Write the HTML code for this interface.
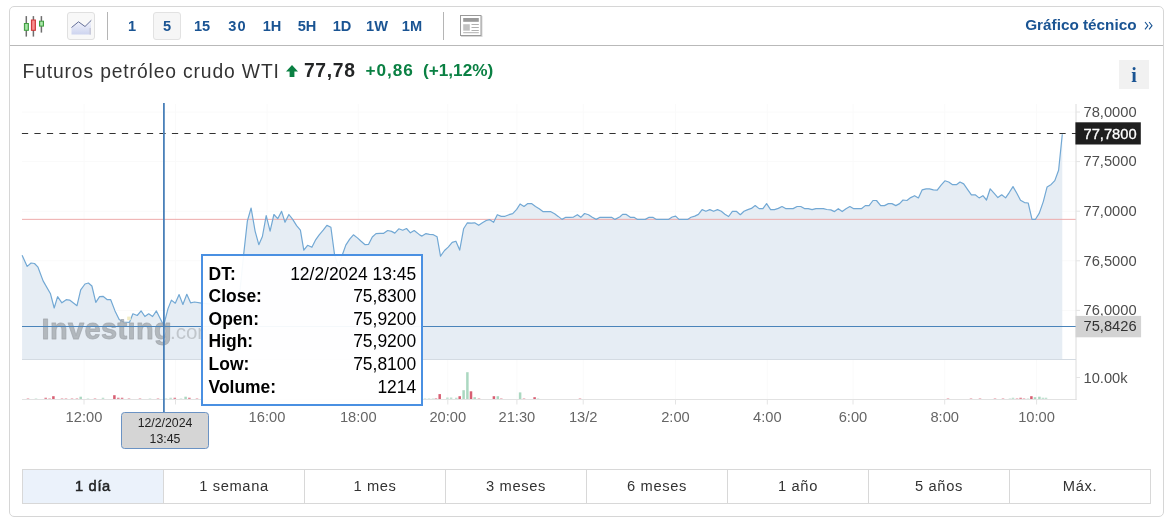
<!DOCTYPE html>
<html><head><meta charset="utf-8"><title>Futuros petróleo crudo WTI</title>
<style>
html,body{margin:0;padding:0;background:#fff;}
body{width:1169px;height:526px;position:relative;overflow:hidden;font-family:"Liberation Sans",sans-serif;}
.card{position:absolute;left:9px;top:6px;width:1153px;height:509px;border:1px solid #d6d6d6;border-radius:5px;background:#fff;}
.hdr{position:absolute;left:10px;top:7px;width:1153px;height:38px;border-bottom:1px solid #b9b9b9;}
.iv{position:absolute;top:12px;width:28px;height:28px;line-height:28px;text-align:center;font-weight:bold;font-size:14.6px;color:#1a5493;box-sizing:border-box;}
.iv.on{background:#f6f6f6;border:1px solid #e2e2e2;border-radius:3px;line-height:26px;}
.btn{position:absolute;left:67px;top:12px;width:28px;height:28px;box-sizing:border-box;background:#f8f8f8;border:1px solid #e0e0e0;border-radius:3px;}
.sep{position:absolute;top:12px;width:1px;height:28px;background:#b5b5b5;}
.gt{position:absolute;left:1025.2px;top:16.4px;letter-spacing:0px;font-weight:bold;font-size:15.3px;color:#1a5493;white-space:nowrap;line-height:17px;}
.title{position:absolute;left:22.5px;top:59.6px;font-size:19.3px;line-height:24px;color:#333;white-space:nowrap;letter-spacing:0.87px;}
.px{position:absolute;left:304px;top:59px;font-size:19.3px;line-height:24px;color:#232526;font-weight:bold;white-space:nowrap;letter-spacing:0.65px;}
.chg{position:absolute;top:59px;font-size:17.2px;line-height:22px;color:#0a8043;font-weight:bold;white-space:nowrap;}
.info{position:absolute;left:1119px;top:60px;width:30px;height:29px;background:#f1f1f1;text-align:center;font-family:"Liberation Serif",serif;font-weight:bold;font-size:20px;line-height:30px;color:#1a5493;}
svg{position:absolute;left:0;top:0;}
svg text{font-family:"Liberation Sans",sans-serif;}
.tip{position:absolute;left:201px;top:254.2px;width:218px;height:148px;border:2px solid #4a90e2;background:rgba(255,255,255,0.94);font-size:17.45px;color:#000;}
.tip .r{position:absolute;left:5.6px;right:4.8px;height:20px;line-height:20px;}
.tip .r b{position:absolute;left:0;}
.tip .r span{position:absolute;right:0;}
.dlab{position:absolute;left:121px;top:412px;width:86px;height:34.5px;border:1px solid #6b93c4;border-radius:3.5px;background:#d5d5d5;text-align:center;font-size:12.3px;line-height:15.8px;color:#222;padding-top:0px;}
.dlab div{position:relative;top:2.9px}
.tabs{position:absolute;left:22px;top:469px;width:1129px;height:35px;border:1px solid #d8d8d8;box-sizing:border-box;}
.tab{position:absolute;top:0;width:141px;height:33px;line-height:33.2px;text-align:center;font-size:14.7px;letter-spacing:0.62px;color:#333;border-left:1px solid #d8d8d8;box-sizing:border-box;}
.tab:first-child{border-left:none;}
.tab.on{background:#ebf2fb;font-weight:normal;color:#232526;-webkit-text-stroke:0.5px #232526;}
</style></head><body>
<div id="root" style="position:absolute;left:0;top:0;width:1169px;height:526px;will-change:transform;">
<div class="card"></div>
<div class="hdr"></div>
<svg width="60" height="46" viewBox="0 0 60 46">
 <defs><linearGradient id="cg" x1="0" y1="0" x2="1" y2="0"><stop offset="0" stop-color="#7fd27f"/><stop offset="0.5" stop-color="#aee6ae"/><stop offset="1" stop-color="#7fd27f"/></linearGradient>
 <linearGradient id="cr" x1="0" y1="0" x2="1" y2="0"><stop offset="0" stop-color="#ee6a6a"/><stop offset="0.5" stop-color="#f79494"/><stop offset="1" stop-color="#ee6a6a"/></linearGradient></defs>
 <g stroke="#6e6e6e" stroke-width="1.5" fill="none"><line x1="26.3" y1="16.1" x2="26.3" y2="36.6"/><line x1="33.4" y1="16.1" x2="33.4" y2="36.6"/><line x1="41.4" y1="16.1" x2="41.4" y2="32.6"/></g>
 <rect x="24.4" y="23.5" width="4" height="6.8" fill="url(#cg)" stroke="#3f9c3f" stroke-width="1"/>
 <rect x="31.4" y="20" width="4" height="10.3" fill="url(#cr)" stroke="#cc3333" stroke-width="1"/>
 <rect x="39.5" y="21.2" width="4" height="4.9" fill="url(#cg)" stroke="#3f9c3f" stroke-width="1"/>
</svg>
<div class="btn"><svg width="26" height="26" viewBox="0 0 26 26" style="left:0;top:0">
 <defs><linearGradient id="ag" x1="0" y1="0" x2="0" y2="1"><stop offset="0" stop-color="#f4f5fc"/><stop offset="1" stop-color="#cdd4ef"/></linearGradient></defs>
 <path d="M3.5,14.5 L10.5,8.8 L17,13.5 L23,7.5 L23,21.5 L3.5,21.5 Z" fill="url(#ag)"/>
 <rect x="21.4" y="15" width="1.6" height="6.5" fill="#c9cbdc"/>
 <path d="M3.5,14.5 L10.5,8.8 L17,13.5 L23.3,7.3" fill="none" stroke="#5c6792" stroke-width="0.95"/>
</svg></div>
<div class="sep" style="left:107px"></div>
<div class="iv" style="left:118px">1</div><div class="iv on" style="left:153px">5</div><div class="iv" style="left:188px">15</div><div class="iv" style="left:223px;letter-spacing:1.2px;text-indent:1px">30</div><div class="iv" style="left:258px">1H</div><div class="iv" style="left:293px">5H</div><div class="iv" style="left:328px">1D</div><div class="iv" style="left:363px">1W</div><div class="iv" style="left:398px">1M</div>
<div class="sep" style="left:443px"></div>
<svg width="30" height="30" viewBox="0 0 30 30" style="left:455px;top:10px">
 <rect x="6" y="6" width="21.5" height="21" fill="#d8d8d8"/>
 <rect x="5.5" y="5.5" width="20.5" height="20" fill="#fff" stroke="#999" stroke-width="1"/>
 <rect x="8.2" y="8" width="15.6" height="3.8" fill="#9a9a9a"/>
 <rect x="8.2" y="14.2" width="6.6" height="6.5" fill="#c2c2c2"/>
 <g stroke="#b0b0b0" stroke-width="1"><line x1="16.5" y1="14.5" x2="23.8" y2="14.5"/><line x1="16.5" y1="17.5" x2="23.8" y2="17.5"/><line x1="16.5" y1="20.5" x2="23.8" y2="20.5"/><line x1="8.2" y1="22.7" x2="23.8" y2="22.7"/></g>
</svg>
<div class="gt">Gráfico técnico</div><svg width="10" height="10" viewBox="0 0 10 10" style="left:1144px;top:21.2px"><path d="M1,1 L3.9,4.7 L1,8.4 M5.1,1 L8,4.7 L5.1,8.4" fill="none" stroke="#1a5493" stroke-width="1.1"/></svg>
<div class="title">Futuros petróleo crudo WTI</div>
<svg width="14" height="14" viewBox="0 0 14 14" style="left:285px;top:64px"><path d="M7,1 L13,7.6 L9.4,7.6 L9.4,13 L4.6,13 L4.6,7.6 L1,7.6 Z" fill="#0a8043"/></svg>
<div class="px">77,78</div>
<div class="chg" style="left:365.5px;letter-spacing:0.95px">+0,86</div>
<div class="chg" style="left:423px">(+1,12%)</div>
<div class="info">i</div>

<svg width="1169" height="526" viewBox="0 0 1169 526">
 <g stroke="#fafafa" stroke-width="1"><line x1="84" y1="104" x2="84" y2="399"/><line x1="175.5" y1="104" x2="175.5" y2="399"/><line x1="267" y1="104" x2="267" y2="399"/><line x1="358.3" y1="104" x2="358.3" y2="399"/><line x1="447.8" y1="104" x2="447.8" y2="399"/><line x1="516.9" y1="104" x2="516.9" y2="399"/><line x1="583.2" y1="104" x2="583.2" y2="399"/><line x1="675.5" y1="104" x2="675.5" y2="399"/><line x1="767.3" y1="104" x2="767.3" y2="399"/><line x1="853" y1="104" x2="853" y2="399"/><line x1="944.7" y1="104" x2="944.7" y2="399"/><line x1="1036.6" y1="104" x2="1036.6" y2="399"/><line x1="22" y1="112" x2="1076" y2="112"/><line x1="22" y1="161.6" x2="1076" y2="161.6"/><line x1="22" y1="211.2" x2="1076" y2="211.2"/><line x1="22" y1="260.8" x2="1076" y2="260.8"/><line x1="22" y1="310.4" x2="1076" y2="310.4"/></g>
 <path d="M22.1,255.3 L27.2,266.4 L31.1,263.0 L34.5,263.5 L38.0,267.2 L43.1,280.9 L50.5,293.8 L54.2,308.0 L57.6,296.7 L61.9,302.8 L66.2,299.7 L69.6,300.1 L77.0,305.7 L80.7,289.8 L85.0,284.0 L88.4,283.0 L91.9,286.0 L95.8,302.3 L99.6,296.7 L103.0,296.3 L107.3,299.7 L110.7,299.7 L115.0,310.9 L119.2,319.4 L123.5,322.0 L129.5,322.3 L132.9,313.8 L137.2,315.5 L141.1,310.9 L144.9,316.5 L148.7,313.8 L152.6,316.5 L156.4,310.9 L163.7,325.4 L168.0,308.6 L171.4,300.1 L175.3,303.2 L179.1,294.6 L182.9,304.5 L186.8,294.3 L190.6,302.8 L194.5,302.0 L201.4,303.2 L210.0,304.0 L220.0,300.0 L230.0,303.0 L239.0,300.0 L243.6,255.0 L247.4,220.8 L251.1,208.0 L255.1,231.1 L258.8,244.7 L262.4,236.5 L266.2,215.7 L270.1,231.1 L273.9,214.5 L277.7,218.7 L281.6,211.4 L285.0,222.2 L288.9,214.5 L292.7,219.4 L296.6,225.6 L300.4,230.2 L303.8,250.2 L307.6,245.3 L311.9,247.3 L315.8,239.6 L319.2,234.8 L323.2,230.2 L326.9,225.4 L330.9,227.3 L334.6,255.0 L338.4,266.0 L342.3,255.0 L345.8,245.1 L349.7,239.1 L353.4,234.8 L357.4,237.9 L361.1,241.3 L365.1,244.7 L368.5,244.4 L372.3,237.0 L376.0,233.6 L380.0,233.3 L383.7,233.3 L387.7,230.5 L391.6,231.4 L394.8,233.1 L398.8,228.8 L402.7,230.2 L406.5,228.5 L410.4,232.8 L414.2,230.5 L420.0,235.1 L422.0,236.1 L426.0,233.6 L429.4,234.4 L433.3,234.7 L437.1,236.8 L440.5,256.1 L444.5,250.5 L448.2,247.1 L452.2,242.4 L455.9,241.2 L459.7,250.1 L463.6,228.8 L467.4,222.8 L471.3,223.1 L474.7,222.8 L478.7,225.3 L482.4,222.8 L486.2,220.5 L489.8,219.7 L493.6,222.3 L497.3,214.7 L501.3,216.4 L505.0,216.3 L509.0,214.7 L512.7,213.7 L516.7,209.4 L520.1,204.0 L524.0,206.5 L527.8,203.6 L531.5,203.6 L535.5,206.5 L539.2,208.7 L543.2,211.7 L546.9,211.7 L550.9,211.7 L554.6,213.7 L558.2,216.4 L562.0,219.4 L565.8,217.3 L569.7,217.3 L573.5,217.1 L577.4,214.7 L580.8,217.3 L584.6,213.5 L588.5,214.7 L592.3,217.3 L596.2,219.4 L600.0,217.3 L603.9,217.3 L607.7,217.3 L611.6,217.3 L615.0,219.4 L620.0,216.8 L622.6,214.4 L626.3,214.4 L630.3,217.3 L634.0,217.3 L637.5,219.4 L641.4,219.4 L645.3,219.4 L649.1,217.3 L652.8,217.3 L656.4,219.4 L660.5,219.4 L664.5,219.4 L668.4,219.4 L672.2,217.0 L675.6,216.1 L679.0,219.4 L683.3,219.4 L687.6,219.4 L691.0,217.3 L694.8,216.1 L698.4,214.4 L702.1,209.6 L705.9,211.3 L709.8,209.6 L713.6,211.3 L717.5,209.6 L721.3,211.3 L724.9,214.2 L728.6,216.5 L732.4,211.3 L736.3,211.3 L740.3,214.7 L744.0,211.3 L747.8,209.6 L751.4,208.4 L755.2,205.5 L759.1,208.6 L762.9,208.6 L766.6,203.6 L770.6,209.6 L774.5,209.6 L778.3,208.4 L782.0,206.5 L785.6,208.6 L789.4,208.6 L793.1,208.6 L797.1,206.5 L800.8,206.5 L804.4,208.6 L808.2,208.6 L812.1,209.6 L815.9,208.6 L820.0,208.7 L823.4,208.7 L826.8,209.5 L830.8,209.9 L834.5,211.6 L838.3,208.7 L842.2,211.6 L846.0,208.7 L849.9,206.5 L853.7,208.7 L857.6,208.7 L861.4,208.7 L865.3,205.6 L869.1,205.6 L873.0,200.5 L876.5,200.5 L880.7,205.6 L884.5,205.6 L888.4,203.6 L891.9,203.6 L895.8,205.6 L899.6,203.6 L903.0,200.0 L906.9,200.5 L910.7,197.6 L914.6,195.7 L918.4,197.9 L922.1,189.9 L926.1,188.8 L929.5,188.8 L933.4,189.9 L937.2,190.2 L941.1,185.1 L944.9,180.8 L948.7,182.0 L952.6,184.7 L956.4,184.7 L960.0,182.0 L963.7,183.9 L967.5,189.4 L971.4,194.8 L975.2,194.8 L979.1,197.9 L982.9,195.7 L986.5,200.0 L990.2,188.8 L994.0,193.1 L997.9,197.6 L1001.7,194.8 L1005.6,197.9 L1009.4,192.3 L1013.0,186.6 L1016.7,193.0 L1020.5,200.3 L1024.5,202.6 L1028.2,203.0 L1032.0,219.3 L1035.5,219.3 L1039.3,213.1 L1043.3,201.6 L1047.1,186.9 L1051.2,184.4 L1054.8,180.6 L1058.6,170.2 L1062.3,134.2 L1062.3,359.5 L22.1,359.5 Z" fill="#e6edf4"/>
 <line x1="22" y1="359.5" x2="1076" y2="359.5" stroke="#d4dbe2" stroke-width="1"/>
 <line x1="22" y1="219.35" x2="1076" y2="219.35" stroke="#eeaaaa" stroke-width="1"/>
 <path d="M22.1,255.3 L27.2,266.4 L31.1,263.0 L34.5,263.5 L38.0,267.2 L43.1,280.9 L50.5,293.8 L54.2,308.0 L57.6,296.7 L61.9,302.8 L66.2,299.7 L69.6,300.1 L77.0,305.7 L80.7,289.8 L85.0,284.0 L88.4,283.0 L91.9,286.0 L95.8,302.3 L99.6,296.7 L103.0,296.3 L107.3,299.7 L110.7,299.7 L115.0,310.9 L119.2,319.4 L123.5,322.0 L129.5,322.3 L132.9,313.8 L137.2,315.5 L141.1,310.9 L144.9,316.5 L148.7,313.8 L152.6,316.5 L156.4,310.9 L163.7,325.4 L168.0,308.6 L171.4,300.1 L175.3,303.2 L179.1,294.6 L182.9,304.5 L186.8,294.3 L190.6,302.8 L194.5,302.0 L201.4,303.2 L210.0,304.0 L220.0,300.0 L230.0,303.0 L239.0,300.0 L243.6,255.0 L247.4,220.8 L251.1,208.0 L255.1,231.1 L258.8,244.7 L262.4,236.5 L266.2,215.7 L270.1,231.1 L273.9,214.5 L277.7,218.7 L281.6,211.4 L285.0,222.2 L288.9,214.5 L292.7,219.4 L296.6,225.6 L300.4,230.2 L303.8,250.2 L307.6,245.3 L311.9,247.3 L315.8,239.6 L319.2,234.8 L323.2,230.2 L326.9,225.4 L330.9,227.3 L334.6,255.0 L338.4,266.0 L342.3,255.0 L345.8,245.1 L349.7,239.1 L353.4,234.8 L357.4,237.9 L361.1,241.3 L365.1,244.7 L368.5,244.4 L372.3,237.0 L376.0,233.6 L380.0,233.3 L383.7,233.3 L387.7,230.5 L391.6,231.4 L394.8,233.1 L398.8,228.8 L402.7,230.2 L406.5,228.5 L410.4,232.8 L414.2,230.5 L420.0,235.1 L422.0,236.1 L426.0,233.6 L429.4,234.4 L433.3,234.7 L437.1,236.8 L440.5,256.1 L444.5,250.5 L448.2,247.1 L452.2,242.4 L455.9,241.2 L459.7,250.1 L463.6,228.8 L467.4,222.8 L471.3,223.1 L474.7,222.8 L478.7,225.3 L482.4,222.8 L486.2,220.5 L489.8,219.7 L493.6,222.3 L497.3,214.7 L501.3,216.4 L505.0,216.3 L509.0,214.7 L512.7,213.7 L516.7,209.4 L520.1,204.0 L524.0,206.5 L527.8,203.6 L531.5,203.6 L535.5,206.5 L539.2,208.7 L543.2,211.7 L546.9,211.7 L550.9,211.7 L554.6,213.7 L558.2,216.4 L562.0,219.4 L565.8,217.3 L569.7,217.3 L573.5,217.1 L577.4,214.7 L580.8,217.3 L584.6,213.5 L588.5,214.7 L592.3,217.3 L596.2,219.4 L600.0,217.3 L603.9,217.3 L607.7,217.3 L611.6,217.3 L615.0,219.4 L620.0,216.8 L622.6,214.4 L626.3,214.4 L630.3,217.3 L634.0,217.3 L637.5,219.4 L641.4,219.4 L645.3,219.4 L649.1,217.3 L652.8,217.3 L656.4,219.4 L660.5,219.4 L664.5,219.4 L668.4,219.4 L672.2,217.0 L675.6,216.1 L679.0,219.4 L683.3,219.4 L687.6,219.4 L691.0,217.3 L694.8,216.1 L698.4,214.4 L702.1,209.6 L705.9,211.3 L709.8,209.6 L713.6,211.3 L717.5,209.6 L721.3,211.3 L724.9,214.2 L728.6,216.5 L732.4,211.3 L736.3,211.3 L740.3,214.7 L744.0,211.3 L747.8,209.6 L751.4,208.4 L755.2,205.5 L759.1,208.6 L762.9,208.6 L766.6,203.6 L770.6,209.6 L774.5,209.6 L778.3,208.4 L782.0,206.5 L785.6,208.6 L789.4,208.6 L793.1,208.6 L797.1,206.5 L800.8,206.5 L804.4,208.6 L808.2,208.6 L812.1,209.6 L815.9,208.6 L820.0,208.7 L823.4,208.7 L826.8,209.5 L830.8,209.9 L834.5,211.6 L838.3,208.7 L842.2,211.6 L846.0,208.7 L849.9,206.5 L853.7,208.7 L857.6,208.7 L861.4,208.7 L865.3,205.6 L869.1,205.6 L873.0,200.5 L876.5,200.5 L880.7,205.6 L884.5,205.6 L888.4,203.6 L891.9,203.6 L895.8,205.6 L899.6,203.6 L903.0,200.0 L906.9,200.5 L910.7,197.6 L914.6,195.7 L918.4,197.9 L922.1,189.9 L926.1,188.8 L929.5,188.8 L933.4,189.9 L937.2,190.2 L941.1,185.1 L944.9,180.8 L948.7,182.0 L952.6,184.7 L956.4,184.7 L960.0,182.0 L963.7,183.9 L967.5,189.4 L971.4,194.8 L975.2,194.8 L979.1,197.9 L982.9,195.7 L986.5,200.0 L990.2,188.8 L994.0,193.1 L997.9,197.6 L1001.7,194.8 L1005.6,197.9 L1009.4,192.3 L1013.0,186.6 L1016.7,193.0 L1020.5,200.3 L1024.5,202.6 L1028.2,203.0 L1032.0,219.3 L1035.5,219.3 L1039.3,213.1 L1043.3,201.6 L1047.1,186.9 L1051.2,184.4 L1054.8,180.6 L1058.6,170.2 L1062.3,134.2" fill="none" stroke="#72a8d4" stroke-width="1.2" stroke-linejoin="round"/>
 <g font-size="29" font-weight="bold" fill="#a0a5ab" fill-opacity="0.75"><text x="41.6" y="339.2" letter-spacing="0.35" stroke="#a0a5ab" stroke-opacity="0.75" stroke-width="0.9" stroke-linejoin="round">Investıng</text><text x="170" y="339.2" font-weight="normal" font-size="20.5" fill="#b3b8be">.com</text></g>
 <rect x="127.2" y="316.6" width="3.6" height="3.6" fill="#f1ebc4"/>
 <rect x="44.45" y="397.70" width="2.5" height="1.50" fill="#d6566b" fill-opacity="0.7"/><rect x="52.15" y="396.20" width="2.5" height="3.00" fill="#d6566b" fill-opacity="0.95"/><rect x="48.35" y="398.20" width="2.5" height="1.00" fill="#d6566b" fill-opacity="0.45"/><rect x="79.45" y="396.70" width="2.5" height="2.50" fill="#a6d6be" fill-opacity="0.95"/><rect x="75.65" y="398.20" width="2.5" height="1.00" fill="#d6566b" fill-opacity="0.45"/><rect x="70.75" y="398.20" width="2.5" height="1.00" fill="#d6566b" fill-opacity="0.45"/><rect x="101.75" y="397.70" width="2.5" height="1.50" fill="#a6d6be" fill-opacity="0.7"/><rect x="113.15" y="395.20" width="2.5" height="4.00" fill="#d6566b" fill-opacity="0.95"/><rect x="117.05" y="397.70" width="2.5" height="1.50" fill="#d6566b" fill-opacity="0.7"/><rect x="120.85" y="397.70" width="2.5" height="1.50" fill="#d6566b" fill-opacity="0.7"/><rect x="127.75" y="398.20" width="2.5" height="1.00" fill="#d6566b" fill-opacity="0.45"/><rect x="138.75" y="398.20" width="2.5" height="1.00" fill="#d6566b" fill-opacity="0.45"/><rect x="148.75" y="398.20" width="2.5" height="1.00" fill="#a6d6be" fill-opacity="0.45"/><rect x="156.75" y="398.20" width="2.5" height="1.00" fill="#d6566b" fill-opacity="0.45"/><rect x="164.75" y="398.20" width="2.5" height="1.00" fill="#a6d6be" fill-opacity="0.45"/><rect x="169.35" y="397.70" width="2.5" height="1.50" fill="#a6d6be" fill-opacity="0.7"/><rect x="173.55" y="397.70" width="2.5" height="1.50" fill="#d6566b" fill-opacity="0.7"/><rect x="179.75" y="398.20" width="2.5" height="1.00" fill="#a6d6be" fill-opacity="0.45"/><rect x="184.35" y="396.70" width="2.5" height="2.50" fill="#a6d6be" fill-opacity="0.95"/><rect x="188.15" y="397.70" width="2.5" height="1.50" fill="#d6566b" fill-opacity="0.7"/><rect x="195.75" y="398.20" width="2.5" height="1.00" fill="#d6566b" fill-opacity="0.45"/><rect x="26.75" y="398.20" width="2.5" height="1.00" fill="#d6566b" fill-opacity="0.45"/><rect x="34.75" y="398.20" width="2.5" height="1.00" fill="#a6d6be" fill-opacity="0.45"/><rect x="60.75" y="398.20" width="2.5" height="1.00" fill="#d6566b" fill-opacity="0.45"/><rect x="64.75" y="398.20" width="2.5" height="1.00" fill="#d6566b" fill-opacity="0.45"/><rect x="86.75" y="398.20" width="2.5" height="1.00" fill="#a6d6be" fill-opacity="0.45"/><rect x="93.75" y="398.20" width="2.5" height="1.00" fill="#d6566b" fill-opacity="0.45"/><rect x="423.75" y="398.20" width="2.5" height="1.00" fill="#a6d6be" fill-opacity="0.45"/><rect x="427.75" y="398.20" width="2.5" height="1.00" fill="#a6d6be" fill-opacity="0.45"/><rect x="431.75" y="398.20" width="2.5" height="1.00" fill="#a6d6be" fill-opacity="0.45"/><rect x="434.75" y="398.00" width="2.5" height="1.20" fill="#d6566b" fill-opacity="0.45"/><rect x="438.45" y="394.10" width="2.5" height="5.10" fill="#d6566b" fill-opacity="0.95"/><rect x="446.15" y="397.50" width="2.5" height="1.70" fill="#a6d6be" fill-opacity="0.7"/><rect x="449.85" y="397.50" width="2.5" height="1.70" fill="#a6d6be" fill-opacity="0.7"/><rect x="455.05" y="397.70" width="2.5" height="1.50" fill="#a6d6be" fill-opacity="0.7"/><rect x="458.45" y="396.20" width="2.5" height="3.00" fill="#d6566b" fill-opacity="0.95"/><rect x="462.35" y="390.20" width="2.5" height="9.00" fill="#a6d6be" fill-opacity="0.95"/><rect x="466.15" y="372.20" width="2.5" height="27.00" fill="#a6d6be" fill-opacity="0.95"/><rect x="469.75" y="391.30" width="2.5" height="7.90" fill="#d6566b" fill-opacity="0.95"/><rect x="473.45" y="397.20" width="2.5" height="2.00" fill="#a6d6be" fill-opacity="0.95"/><rect x="477.75" y="398.20" width="2.5" height="1.00" fill="#d6566b" fill-opacity="0.45"/><rect x="492.65" y="396.20" width="2.5" height="3.00" fill="#d6566b" fill-opacity="0.95"/><rect x="496.55" y="396.20" width="2.5" height="3.00" fill="#a6d6be" fill-opacity="0.95"/><rect x="500.05" y="398.20" width="2.5" height="1.00" fill="#d6566b" fill-opacity="0.45"/><rect x="518.85" y="392.40" width="2.5" height="6.80" fill="#a6d6be" fill-opacity="0.95"/><rect x="522.75" y="398.20" width="2.5" height="1.00" fill="#d6566b" fill-opacity="0.45"/><rect x="533.35" y="397.20" width="2.5" height="2.00" fill="#d6566b" fill-opacity="0.95"/><rect x="536.75" y="398.20" width="2.5" height="1.00" fill="#a6d6be" fill-opacity="0.45"/><rect x="578.75" y="398.20" width="2.5" height="1.00" fill="#d6566b" fill-opacity="0.45"/><rect x="946.75" y="398.20" width="2.5" height="1.00" fill="#d6566b" fill-opacity="0.45"/><rect x="969.75" y="398.20" width="2.5" height="1.00" fill="#d6566b" fill-opacity="0.45"/><rect x="978.75" y="398.20" width="2.5" height="1.00" fill="#d6566b" fill-opacity="0.45"/><rect x="993.75" y="398.20" width="2.5" height="1.00" fill="#d6566b" fill-opacity="0.45"/><rect x="1001.75" y="398.20" width="2.5" height="1.00" fill="#d6566b" fill-opacity="0.45"/><rect x="1008.75" y="398.20" width="2.5" height="1.00" fill="#a6d6be" fill-opacity="0.45"/><rect x="1011.75" y="397.70" width="2.5" height="1.50" fill="#a6d6be" fill-opacity="0.7"/><rect x="1015.75" y="398.20" width="2.5" height="1.00" fill="#d6566b" fill-opacity="0.45"/><rect x="1019.35" y="397.70" width="2.5" height="1.50" fill="#d6566b" fill-opacity="0.7"/><rect x="1022.75" y="398.20" width="2.5" height="1.00" fill="#d6566b" fill-opacity="0.45"/><rect x="1026.75" y="398.20" width="2.5" height="1.00" fill="#a6d6be" fill-opacity="0.45"/><rect x="1030.15" y="396.20" width="2.5" height="3.00" fill="#d6566b" fill-opacity="0.95"/><rect x="1033.75" y="397.20" width="2.5" height="2.00" fill="#a6d6be" fill-opacity="0.95"/><rect x="1038.15" y="396.70" width="2.5" height="2.50" fill="#a6d6be" fill-opacity="0.95"/><rect x="1041.65" y="397.70" width="2.5" height="1.50" fill="#a6d6be" fill-opacity="0.7"/><rect x="1044.75" y="397.70" width="2.5" height="1.50" fill="#a6d6be" fill-opacity="0.7"/>
 <line x1="22" y1="399.5" x2="1076.5" y2="399.5" stroke="#e2e2e2" stroke-width="1"/>
 <line x1="1076" y1="104" x2="1076" y2="400" stroke="#dcdcdc" stroke-width="1"/>
 <g stroke="#e4e4e4" stroke-width="1"><line x1="84" y1="399.5" x2="84" y2="404.5"/><line x1="175.5" y1="399.5" x2="175.5" y2="404.5"/><line x1="267" y1="399.5" x2="267" y2="404.5"/><line x1="358.3" y1="399.5" x2="358.3" y2="404.5"/><line x1="447.8" y1="399.5" x2="447.8" y2="404.5"/><line x1="516.9" y1="399.5" x2="516.9" y2="404.5"/><line x1="583.2" y1="399.5" x2="583.2" y2="404.5"/><line x1="675.5" y1="399.5" x2="675.5" y2="404.5"/><line x1="767.3" y1="399.5" x2="767.3" y2="404.5"/><line x1="853" y1="399.5" x2="853" y2="404.5"/><line x1="944.7" y1="399.5" x2="944.7" y2="404.5"/><line x1="1036.6" y1="399.5" x2="1036.6" y2="404.5"/><line x1="1076" y1="112" x2="1080" y2="112"/><line x1="1076" y1="161.6" x2="1080" y2="161.6"/><line x1="1076" y1="211.2" x2="1080" y2="211.2"/><line x1="1076" y1="260.8" x2="1080" y2="260.8"/><line x1="1076" y1="310.4" x2="1080" y2="310.4"/><line x1="1076" y1="377.5" x2="1080" y2="377.5"/></g>
 <g font-size="14.7" fill="#666"><text x="84" y="421.8" text-anchor="middle">12:00</text><text x="175.5" y="421.8" text-anchor="middle">14:00</text><text x="267" y="421.8" text-anchor="middle">16:00</text><text x="358.3" y="421.8" text-anchor="middle">18:00</text><text x="447.8" y="421.8" text-anchor="middle">20:00</text><text x="516.9" y="421.8" text-anchor="middle">21:30</text><text x="583.2" y="421.8" text-anchor="middle">13/2</text><text x="675.5" y="421.8" text-anchor="middle">2:00</text><text x="767.3" y="421.8" text-anchor="middle">4:00</text><text x="853" y="421.8" text-anchor="middle">6:00</text><text x="944.7" y="421.8" text-anchor="middle">8:00</text><text x="1036.6" y="421.8" text-anchor="middle">10:00</text></g>
 <g font-size="14.7" fill="#4d4d4d"><text x="1083.5" y="116.8">78,0000</text><text x="1083.5" y="166.4">77,5000</text><text x="1083.5" y="216.0">77,0000</text><text x="1083.5" y="265.6">76,5000</text><text x="1083.5" y="315.2">76,0000</text><text x="1083.5" y="383">10.00k</text></g>
 <line x1="21.9" y1="133.5" x2="1076" y2="133.5" stroke="#333" stroke-width="1.2" stroke-dasharray="6.25 6.25"/>
 <rect x="1075.4" y="122.3" width="65.4" height="22.2" fill="#1e1e1e"/>
 <text x="1083.5" y="138.8" font-size="14.7" fill="#fff" stroke="#fff" stroke-width="0.3">77,7800</text>
 <line x1="22" y1="326.5" x2="1076" y2="326.5" stroke="#4a84ba" stroke-width="1"/>
 <rect x="1075.6" y="315.9" width="65.5" height="21.4" fill="#d3d3d3"/>
 <text x="1083.5" y="331.3" font-size="14.7" fill="#333">75,8426</text>
 <line x1="163.9" y1="103" x2="163.9" y2="413" stroke="#4a80b9" stroke-width="1.8"/>
</svg>
<div class="tip"><div class="r" style="top:7.60px"><b>DT:</b><span>12/2/2024 13:45</span></div><div class="r" style="top:30.16px"><b>Close:</b><span>75,8300</span></div><div class="r" style="top:52.72px"><b>Open:</b><span>75,9200</span></div><div class="r" style="top:75.28px"><b>High:</b><span>75,9200</span></div><div class="r" style="top:97.84px"><b>Low:</b><span>75,8100</span></div><div class="r" style="top:120.40px"><b>Volume:</b><span>1214</span></div></div>
<div class="dlab"><div>12/2/2024<br>13:45</div></div>
<div class="tabs"><div class="tab on" style="left:0px;width:140px">1 día</div><div class="tab" style="left:140px;width:141px">1 semana</div><div class="tab" style="left:281px;width:141px">1 mes</div><div class="tab" style="left:422px;width:141px">3 meses</div><div class="tab" style="left:563px;width:141px">6 meses</div><div class="tab" style="left:704px;width:141px">1 año</div><div class="tab" style="left:845px;width:141px">5 años</div><div class="tab" style="left:986px;width:141px">Máx.</div></div>
</div>
</body></html>
